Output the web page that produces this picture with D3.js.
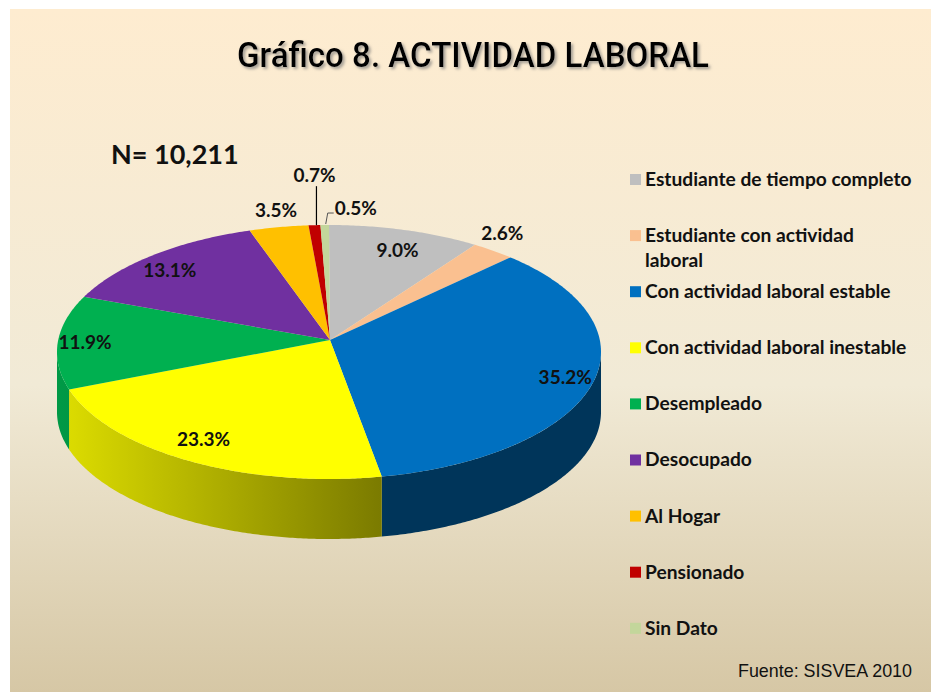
<!DOCTYPE html>
<html>
<head>
<meta charset="utf-8">
<script src="https://cdn.jsdelivr.net/npm/d3@7"></script>
<style>
  html, body { margin: 0; padding: 0; background: #fff; }
  svg { display: block; }
</style>
</head>
<body>
<svg id="chart" width="931" height="692"></svg>
<script>
// data
const categories = [
  'Estudiante de tiempo completo',
  'Estudiante con actividad laboral',
  'Con actividad laboral estable',
  'Con actividad laboral inestable',
  'Desempleado',
  'Desocupado',
  'Al Hogar',
  'Pensionado',
  'Sin Dato'
];
const percents = [9.0, 2.6, 35.2, 23.3, 11.9, 13.1, 3.5, 0.7, 0.5];
const colors = ['#BFBFBF', '#FAC090', '#0070C0', '#FFFF00', '#00B050', '#7030A0', '#FFC000', '#C00000', '#C3D69B'];
const title = 'Gráfico 8. ACTIVIDAD LABORAL';
const sampleText = 'N= 10,211';
const sourceText = 'Fuente: SISVEA 2010';

const width = 931, height = 692;
const svg = d3.select('#chart');
const defs = svg.append('defs');

// background
const bg = defs.append('linearGradient').attr('id', 'bg')
  .attr('x1', 0).attr('y1', 0).attr('x2', 0).attr('y2', 1);
bg.append('stop').attr('offset', '0%').attr('stop-color', '#FEECD0');
bg.append('stop').attr('offset', '55%').attr('stop-color', '#F1EAD6');
bg.append('stop').attr('offset', '100%').attr('stop-color', '#D6C7A5');
svg.append('rect').attr('x', 10).attr('y', 9).attr('width', width - 10).attr('height', height - 9)
  .attr('fill', 'url(#bg)');

const shadow = defs.append('filter').attr('id', 'shadow')
  .attr('x', '-5%').attr('y', '-20%').attr('width', '110%').attr('height', '150%');
shadow.append('feDropShadow').attr('dx', 2).attr('dy', 2).attr('stdDeviation', 1.4)
  .attr('flood-color', '#777').attr('flood-opacity', 0.7);

// title
svg.append('text')
  .attr('x', 473).attr('y', 67)
  .attr('text-anchor', 'middle')
  .attr('textLength', 472).attr('lengthAdjust', 'spacingAndGlyphs')
  .style('font-family', 'Roboto, "Liberation Sans", sans-serif')
  .style('font-weight', 500)
  .style('font-size', '35px')
  .attr('fill', '#000')
  .attr('filter', 'url(#shadow)')
  .text(title);

svg.append('text')
  .attr('x', 111).attr('y', 164)
  .style('font-family', 'Lato, "Open Sans", sans-serif')
  .style('font-weight', 'bold')
  .style('font-size', '27px')
  .attr('fill', '#111')
  .text(sampleText);

svg.append('text')
  .attr('x', 912).attr('y', 677)
  .attr('text-anchor', 'end')
  .attr('textLength', 174).attr('lengthAdjust', 'spacingAndGlyphs')
  .style('font-family', '"Liberation Sans", sans-serif')
  .style('font-size', '19px')
  .attr('fill', '#111')
  .text(sourceText);

// 3D pie geometry
const cx = 329, cy = 352, rx = 272, ry = 127, depth = 60;
const apex = [330, 340];
const pt = (a, k = 1) => [cx + rx * k * Math.sin(a), cy - ry * k * Math.cos(a)];

const pie = d3.pie().sort(null).value(d => d)
  .startAngle(0).endAngle(2 * Math.PI);
const arcs = pie(percents);
const color = d3.scaleOrdinal().domain(categories).range(colors);

const sample = (a0, a1) => {
  const n = Math.max(2, Math.ceil((a1 - a0) / 0.01));
  return d3.range(n + 1).map(i => a0 + (a1 - a0) * i / n);
};

// side walls (only front half is visible: angles between PI/2 and 3PI/2)
const sideG = svg.append('g');
arcs.forEach((d, i) => {
  const a0 = Math.max(d.startAngle, Math.PI / 2);
  const a1 = Math.min(d.endAngle, 3 * Math.PI / 2);
  if (a1 <= a0) return;
  const base = d3.color(colors[i]);
  const gid = 'side' + i;
  const g = defs.append('linearGradient').attr('id', gid)
    .attr('gradientUnits', 'userSpaceOnUse')
    .attr('x1', 60).attr('y1', 0).attr('x2', 390).attr('y2', 0);
  const shade = f => d3.rgb(base.r * f, base.g * f, base.b * f).formatHex();
  g.append('stop').attr('offset', 0).attr('stop-color', shade(0.87));
  g.append('stop').attr('offset', 1).attr('stop-color', shade(0.47));
  const angs = sample(a0, a1);
  const top = angs.map(a => pt(a));
  const bottom = angs.slice().reverse().map(a => { const p = pt(a); return [p[0], p[1] + depth]; });
  sideG.append('path')
    .attr('d', d3.line()(top.concat(bottom)) + 'Z')
    .attr('fill', `url(#${gid})`);
});

// top surfaces
svg.append('g').selectAll('path')
  .data(arcs)
  .join('path')
  .attr('d', d => d3.line()([apex].concat(sample(d.startAngle, d.endAngle).map(a => pt(a)))) + 'Z')
  .attr('fill', (d, i) => color(categories[i]));

// data labels
const labelFont = g => g
  .style('font-family', 'Lato, "Open Sans", sans-serif')
  .style('font-weight', 'bold')
  .style('font-size', '19px')
  .attr('fill', '#111');
const fmt = v => v.toFixed(1) + '%';
const labels = svg.append('g');
arcs.forEach((d, i) => {
  const mid = (d.startAngle + d.endAngle) / 2;
  const share = d.value;
  const e = pt(mid);
  if (share >= 5) {
    const p = [apex[0] + (e[0] - apex[0]) * 0.9, apex[1] + (e[1] - apex[1]) * 0.82];
    labels.append('text').call(labelFont)
      .attr('x', p[0]).attr('y', p[1]).attr('dy', '0.35em').attr('text-anchor', 'middle')
      .text(fmt(share));
  } else if (share >= 1) {
    labels.append('text').call(labelFont)
      .attr('x', e[0] + Math.sin(mid) * 15).attr('y', e[1] - 17).attr('dy', '0.35em')
      .attr('text-anchor', 'middle')
      .text(fmt(share));
  } else if (i === arcs.length - 2) {
    // leader line straight up
    labels.append('line').attr('x1', e[0] + 2).attr('y1', e[1]).attr('x2', e[0] + 2).attr('y2', e[1] - 39)
      .attr('stroke', '#000').attr('stroke-width', 1.2);
    labels.append('text').call(labelFont)
      .attr('x', e[0]).attr('y', e[1] - 50).attr('dy', '0.35em').attr('text-anchor', 'middle')
      .text(fmt(share));
  } else {
    // leader bent to the right
    labels.append('path')
      .attr('d', d3.line()([[e[0] + 1, e[1] - 1], [e[0] + 3, e[1] - 12], [e[0] + 9, e[1] - 12]]))
      .attr('fill', 'none').attr('stroke', '#555').attr('stroke-width', 1);
    labels.append('text').call(labelFont)
      .attr('x', e[0] + 10).attr('y', e[1] - 17).attr('dy', '0.35em')
      .text(fmt(share));
  }
});

// legend
const ly = d3.scalePoint().domain(categories).range([179, 179 + 56.1 * 8]);
const legend = svg.append('g').selectAll('g')
  .data(categories)
  .join('g')
  .attr('transform', d => `translate(630,${ly(d)})`);
legend.append('rect')
  .attr('x', 0).attr('y', -5).attr('width', 11).attr('height', 11)
  .attr('fill', d => color(d));
legend.append('text')
  .attr('x', 15).attr('y', 0).attr('dy', '0.36em')
  .style('font-family', 'Lato, "Open Sans", sans-serif')
  .style('font-weight', 'bold')
  .style('font-size', '19.2px')
  .attr('fill', '#111')
  .each(function (d) {
    const t = d3.select(this);
    const words = d.split(' ');
    let line = [];
    let tspan = t.append('tspan').attr('x', 15);
    words.forEach(w => {
      line.push(w);
      tspan.text(line.join(' '));
      if (tspan.node().getComputedTextLength() > 269 && line.length > 1) {
        line.pop();
        tspan.text(line.join(' '));
        line = [w];
        tspan = t.append('tspan').attr('x', 15).attr('dy', '1.3em').text(w);
      }
    });
  });
</script>
</body>
</html>
